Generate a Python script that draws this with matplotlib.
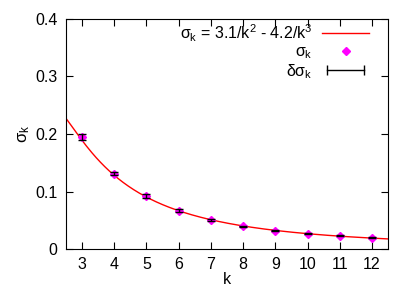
import numpy as np
import matplotlib
matplotlib.use("Agg")
import matplotlib.pyplot as plt
from matplotlib.lines import Line2D
from matplotlib.legend_handler import HandlerLine2D

plt.rcParams['font.family'] = ['Liberation Sans', 'DejaVu Sans']
plt.rcParams['mathtext.fontset'] = 'custom'
plt.rcParams['mathtext.rm'] = 'Liberation Sans'
plt.rcParams['mathtext.it'] = 'Liberation Sans'
plt.rcParams['mathtext.bf'] = 'Liberation Sans'

# data
k = [3, 4, 5, 6, 7, 8, 9, 10, 11, 12]
sigma = [0.195, 0.131, 0.092, 0.067, 0.051, 0.040, 0.032, 0.027, 0.023, 0.020]
dsigma = [0.005, 0.003, 0.003, 0.002, 0.002, 0.001, 0.001, 0.001, 0.001, 0.001]
# fit coefficients: sigma_k = a/k^2 - b/k^3
fit_a = 3.1
fit_b = 4.2

fig = plt.figure(figsize=(4.15, 2.91), dpi=100)
ax = fig.add_axes([0.159, 0.144, 0.776, 0.791])

kk = np.linspace(2.5, 12.5, 300)
ax.plot(kk, fit_a / kk**2 - fit_b / kk**3, color='red', lw=1.0, zorder=2)
ax.errorbar(k, sigma, yerr=dsigma, fmt='none', ecolor='black', elinewidth=1.0,
            capsize=3, capthick=1.0, zorder=3)
ax.plot(k, sigma, linestyle='none', marker='D', ms=4, color='magenta',
        mec='magenta', zorder=2.5)

ax.set_xlim(2.5, 12.5)
ax.set_ylim(0, 0.4)
ax.set_xticks(range(3, 13))
ax.set_yticks([0, 0.1, 0.2, 0.3, 0.4])
ax.set_yticklabels(['0', '0.1', '0.2', '0.3', '0.4'])
ax.tick_params(direction='in', top=True, right=True, length=5, labelsize=11.5, pad=6)
ax.set_xlabel('k', fontsize=11.5, labelpad=0)
ax.set_ylabel(r'$\sigma_\mathrm{k}$', fontsize=12, labelpad=2)

h_fit = Line2D([], [], color='red', lw=1.0)
h_pts = Line2D([], [], linestyle='none', marker='D', ms=4, color='magenta')
h_err = Line2D([], [], color='black', lw=1.0, marker='|', ms=7, mew=1.0)
leg = ax.legend([h_fit, h_pts, h_err],
                [r'$\sigma_\mathrm{k}$ = 3.1/k$^2$ - 4.2/k$^3$', r'$\sigma_\mathrm{k}$',
                 r'$\delta\sigma_\mathrm{k}$'],
                loc='upper right', frameon=False, markerfirst=False, fontsize=11.5,
                handlelength=2.9, handletextpad=0.6, labelspacing=0.05,
                borderaxespad=0.0, borderpad=0.0, bbox_to_anchor=(0.94, 0.985),
                handler_map={h_err: HandlerLine2D(numpoints=2),
                             h_pts: HandlerLine2D(numpoints=1)})

fig.savefig('out.png', dpi=100)
